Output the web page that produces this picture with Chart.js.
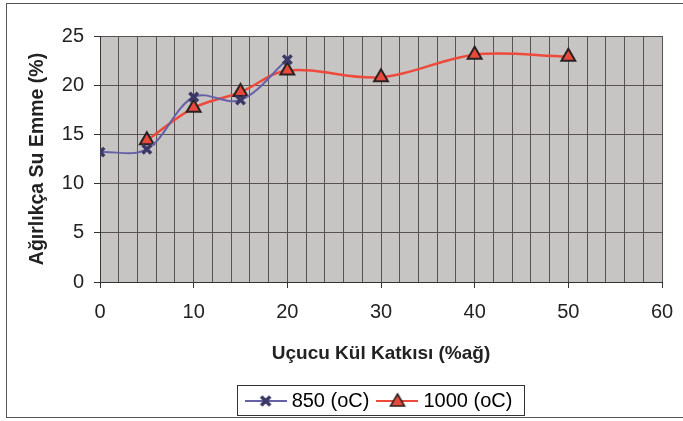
<!DOCTYPE html>
<html>
<head>
<meta charset="utf-8">
<script src="https://cdn.jsdelivr.net/npm/chart.js@4.4.0/dist/chart.umd.min.js"></script>
<style>
  html, body { margin: 0; padding: 0; background: #fff; }
  #wrap { width: 683px; height: 421px; }
</style>
</head>
<body>
<div id="wrap"><canvas id="chart" width="683" height="421"></canvas></div>
<script>
// Data
const x850 = [0, 5, 10, 15, 20];
const y850 = [13.2, 13.5, 18.8, 18.5, 22.6];
const x1000 = [5, 10, 15, 20, 30, 40, 50];
const y1000 = [14.4, 17.7, 19.3, 21.5, 20.8, 23.1, 22.9];
const seriesNames = ['850 (oC)', '1000 (oC)'];
const xTitle = 'Uçucu Kül Katkısı (%ağ)';
const yTitle = 'Ağırlıkça Su Emme (%)';

const toPoints = (xs, ys) => xs.map((x, i) => ({ x: x, y: ys[i] }));

// Legend symbols: short line with the marker in the middle
function legendSymbol(lineColor, drawMarker) {
  const c = document.createElement('canvas');
  c.width = 42; c.height = 18;
  const g = c.getContext('2d');
  g.strokeStyle = lineColor;
  g.lineWidth = 2;
  g.beginPath(); g.moveTo(0, 9); g.lineTo(42, 9); g.stroke();
  drawMarker(g, 21, 9);
  return c;
}
const sym850 = legendSymbol('#6660a6', (g, x, y) => {
  g.strokeStyle = '#3a3866';
  g.lineWidth = 3.5;
  g.beginPath();
  g.moveTo(x - 4.5, y - 4.5); g.lineTo(x + 4.5, y + 4.5);
  g.moveTo(x + 4.5, y - 4.5); g.lineTo(x - 4.5, y + 4.5);
  g.stroke();
});
const sym1000 = legendSymbol('#ee4a3c', (g, x, y) => {
  g.fillStyle = '#e8493a';
  g.strokeStyle = '#2a2222';
  g.lineWidth = 1.6;
  g.beginPath();
  g.moveTo(x, y - 7); g.lineTo(x + 7, y + 5); g.lineTo(x - 7, y + 5);
  g.closePath(); g.fill(); g.stroke();
});

// Frame, plot fill and legend box
const decor = {
  id: 'decor',
  beforeDraw(chart) {
    const { ctx, chartArea: a } = chart;
    ctx.save();
    ctx.fillStyle = '#fff';
    ctx.fillRect(0, 0, chart.width, chart.height);
    ctx.strokeStyle = '#555';
    ctx.lineWidth = 1;
    ctx.strokeRect(6.5, 3.5, 720, 414);
    ctx.fillStyle = '#c7c4c4';
    ctx.fillRect(a.left, a.top, a.right - a.left, a.bottom - a.top);
    ctx.restore();
  },
  afterDraw(chart) {
    const boxes = chart.legend.legendHitBoxes;
    if (!boxes || !boxes.length) return;
    const ctx = chart.ctx;
    const l = Math.min(...boxes.map(b => b.left)) - 13;
    const r = Math.max(...boxes.map(b => b.left + b.width)) + 11;
    const t = Math.min(...boxes.map(b => b.top)) - 6;
    const btm = Math.max(...boxes.map(b => b.top + b.height)) + 4;
    ctx.save();
    ctx.strokeStyle = '#333';
    ctx.lineWidth = 1;
    ctx.strokeRect(Math.round(l) + 0.5, Math.round(t) + 0.5, Math.round(r - l), Math.round(btm - t));
    ctx.restore();
  }
};

new Chart(document.getElementById('chart'), {
  type: 'line',
  data: {
    datasets: [
      {
        label: seriesNames[0],
        data: toPoints(x850, y850),
        borderColor: '#6660a6',
        borderWidth: 2,
        pointStyle: 'crossRot',
        pointRadius: 6,
        pointBorderWidth: 3.5,
        pointBorderColor: '#3a3866',
        pointBackgroundColor: '#3a3866',
        tension: 0.35,
        fill: false
      },
      {
        label: seriesNames[1],
        data: toPoints(x1000, y1000),
        borderColor: '#ee4a3c',
        borderWidth: 2.5,
        pointStyle: 'triangle',
        pointRadius: 8,
        pointBorderWidth: 2,
        pointBorderColor: '#2a2222',
        pointBackgroundColor: '#e8493a',
        tension: 0.35,
        fill: false
      }
    ]
  },
  options: {
    responsive: false,
    animation: false,
    layout: { padding: { left: 0, top: 36, right: 21, bottom: 0 } },
    plugins: {
      tooltip: { enabled: false },
      legend: {
        position: 'bottom',
        fullSize: false,
        labels: {
          usePointStyle: true,
          pointStyleWidth: 32,
          padding: 12,
          color: '#222',
          font: { family: 'Arial, "Liberation Sans"', size: 20 },
          generateLabels: () => [
            { text: seriesNames[0], pointStyle: sym850, fillStyle: 'transparent', strokeStyle: 'transparent', lineWidth: 0, datasetIndex: 0 },
            { text: seriesNames[1], pointStyle: sym1000, fillStyle: 'transparent', strokeStyle: 'transparent', lineWidth: 0, datasetIndex: 1 }
          ]
        }
      }
    },
    scales: {
      x: {
        type: 'linear',
        min: 0,
        max: 60,
        ticks: {
          stepSize: 2,
          autoSkip: false,
          maxRotation: 0,
          padding: 12,
          color: '#222',
          font: { family: 'Arial, "Liberation Sans"', size: 20 },
          callback: v => (v % 10 === 0 ? v : '')
        },
        grid: {
          color: '#5a5252',
          lineWidth: 1,
          tickLength: 6,
          tickColor: c => (c.tick && c.tick.value % 10 === 0 ? '#333' : 'rgba(0,0,0,0)')
        },
        border: { color: '#333', width: 1 },
        title: {
          display: true,
          text: xTitle,
          color: '#222',
          padding: { top: 8, bottom: 14 },
          font: { family: 'Arial, "Liberation Sans"', size: 19, weight: 'bold' }
        },
        afterFit: s => { s.height = 97; s.paddingRight = 0; }
      },
      y: {
        min: 0,
        max: 25,
        ticks: {
          stepSize: 5,
          padding: 10,
          color: '#222',
          font: { family: 'Arial, "Liberation Sans"', size: 20 }
        },
        grid: { color: '#5a5252', lineWidth: 1, tickLength: 6, tickColor: '#333' },
        border: { color: '#333', width: 1 },
        title: {
          display: true,
          text: yTitle,
          color: '#222',
          padding: { top: 26, bottom: 6 },
          font: { family: 'Arial, "Liberation Sans"', size: 19.5, weight: 'bold' }
        },
        afterFit: s => { s.width = 100; }
      }
    }
  },
  plugins: [decor]
});
</script>
</body>
</html>
